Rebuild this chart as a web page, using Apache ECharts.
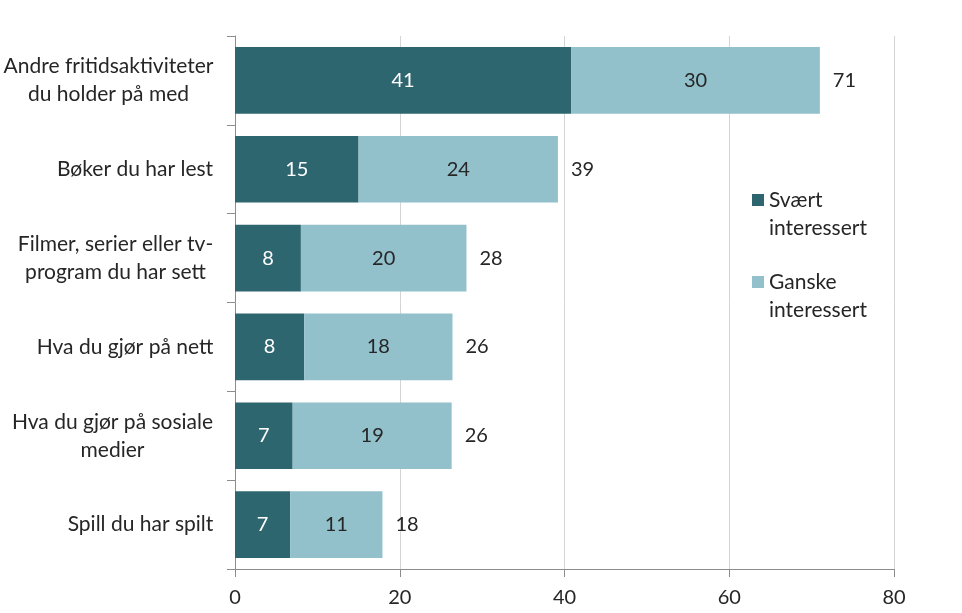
<!DOCTYPE html>
<html><head><meta charset="utf-8">
<script src="https://cdn.jsdelivr.net/npm/echarts@6/dist/echarts.min.js"></script>
<style>html,body{margin:0;padding:0;background:#fff}#c{width:962px;height:613px}</style>
</head><body><div id="c"></div>
<script>
const categories = [
  'Andre fritidsaktiviteter\ndu holder på med',
  'Bøker du har lest',
  'Filmer, serier eller tv-\nprogram du har sett',
  'Hva du gjør på nett',
  'Hva du gjør på sosiale\nmedier',
  'Spill du har spilt'
];
const svaert = [40.8, 15.0, 8.0, 8.4, 7.0, 6.7];
const ganske = [30.2, 24.2, 20.1, 18.0, 19.3, 11.2];
const totals = [71, 39, 28, 26, 26, 18];
const xTicks = [0, 20, 40, 60, 80];

const FONT = 'Lato';
const CAT_FS = 21;
const NUM_FS = 20;
const L = 28;
const cats = categories.slice().reverse();
const s1 = svaert.slice().reverse();
const s2 = ganske.slice().reverse();
const tot = totals.slice().reverse();

// rich styles so that multi-line labels are right-aligned as a block, lines centred within
const cv = document.createElement('canvas').getContext('2d');
cv.font = CAT_FS + 'px ' + FONT;
const rich = {};
cats.forEach((c, i) => {
  const w = Math.max(...c.split('\n').map(s => cv.measureText(s).width));
  rich['c' + i] = {width: Math.ceil(w) + 1, align: 'center', fontSize: CAT_FS, fontFamily: FONT, color: '#262626', lineHeight: L};
});

const chart = echarts.init(document.getElementById('c'));
chart.setOption({
  animation: false,
  textStyle: {fontFamily: FONT},
  grid: {left: 234, right: 68, top: 36, bottom: 44, containLabel: false},
  xAxis: {
    type: 'value', min: xTicks[0], max: xTicks[xTicks.length-1], interval: 20,
    axisLine: {show: true, lineStyle: {color: '#8c8c8c'}},
    axisTick: {show: true, length: 8, lineStyle: {color: '#8c8c8c'}},
    axisLabel: {fontSize: NUM_FS, color: '#262626', fontFamily: FONT, margin: 19},
    splitLine: {show: true, lineStyle: {color: '#d4d4d4', width: 1}}
  },
  yAxis: {
    type: 'category', data: cats,
    axisLine: {show: true, lineStyle: {color: '#8c8c8c'}},
    axisTick: {show: true, length: 8, lineStyle: {color: '#8c8c8c'}},
    axisLabel: {fontSize: CAT_FS, color: '#262626', fontFamily: FONT, align: 'right', margin: 21, lineHeight: L,
      rich: rich,
      formatter: (v, i) => v.split('\n').map(s => '{c' + i + '|' + s + '}').join('\n')}
  },
  legend: [
    {data: ['Svært\ninteressert'], left: 752, top: 200 - 1.5*L, padding: 0, itemWidth: 12, itemHeight: 12, icon: 'rect',
     formatter: n => '\n' + n,
     textStyle: {fontSize: CAT_FS, color: '#262626', fontFamily: FONT, lineHeight: L}},
    {data: ['Ganske\ninteressert'], left: 752, top: 282 - 1.5*L, padding: 0, itemWidth: 12, itemHeight: 12, icon: 'rect',
     formatter: n => '\n' + n,
     textStyle: {fontSize: CAT_FS, color: '#262626', fontFamily: FONT, lineHeight: L}}
  ],
  series: [
    {name: 'Svært\ninteressert', type: 'bar', stack: 't', data: s1, barCategoryGap: '25%',
     itemStyle: {color: '#2e6670'},
     label: {show: true, position: 'inside', color: '#ffffff', fontSize: NUM_FS, fontFamily: FONT,
       formatter: p => Math.round(p.value)}},
    {name: 'Ganske\ninteressert', type: 'bar', stack: 't', data: s2,
     itemStyle: {color: '#92c0cb'},
     label: {show: true, position: 'inside', color: '#262626', fontSize: NUM_FS, fontFamily: FONT,
       formatter: p => Math.round(p.value)}},
    {name: 'Total', type: 'bar', stack: 't', data: tot.map(() => 0),
     itemStyle: {color: 'transparent'},
     label: {show: true, position: 'right', distance: 13, color: '#262626', fontSize: NUM_FS, fontFamily: FONT,
       formatter: p => tot[p.dataIndex]}}
  ]
});
</script></body></html>
